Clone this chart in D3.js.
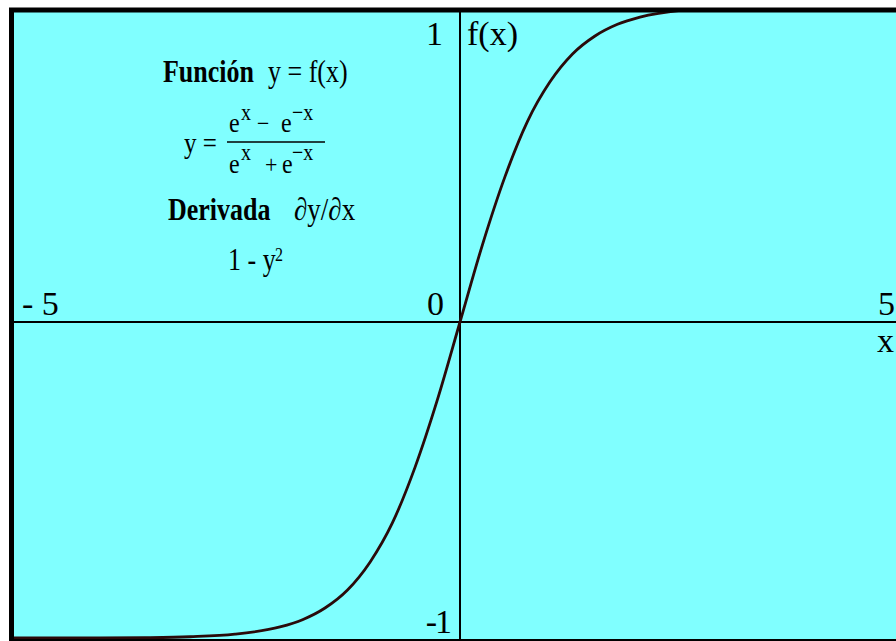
<!DOCTYPE html>
<html>
<head>
<meta charset="utf-8">
<script src="https://cdn.jsdelivr.net/npm/d3@7"></script>
<style>
  html, body { margin: 0; padding: 0; background: #ffffff; }
  svg { display: block; }
  text { font-family: "Liberation Serif", "Times New Roman", serif; fill: #000; }
</style>
</head>
<body>
<svg id="chart" width="896" height="641"></svg>
<script>
// Hyperbolic tangent curve, sampled points (x, f(x))
const xValues = [-5, -4, -3.5, -3, -2.5, -2, -1.75, -1.5, -1.25, -1, -0.75, -0.5, -0.25,
                 0, 0.25, 0.5, 0.75, 1, 1.25, 1.5, 1.75, 2, 2.5, 3, 3.5, 4, 5];
const yValues = [-1.0, -1.0, -0.999, -0.996, -0.988, -0.965, -0.942, -0.905, -0.848, -0.76, -0.635, -0.46, -0.245,
                 0, 0.245, 0.46, 0.635, 0.76, 0.848, 0.905, 0.942, 0.965, 0.988, 0.996, 0.999, 1.0, 1.0];

// Axis end labels
const xTickValues = [-5, 0, 5];
const xTickLabels = ["- 5", "0", "5"];
const yTickValues = [1, -1];
const yTickLabels = ["1", "-1"];

const svg = d3.select("#chart");
const W = 896, H = 641;

const x = d3.scaleLinear().domain([-5, 5]).range([10, 910]);
const y = d3.scaleLinear().domain([-1, 1]).range([638, 6]);

// plot background
svg.append("rect")
  .attr("x", 11.5).attr("y", 10)
  .attr("width", 900).attr("height", 631.5)
  .attr("fill", "#80ffff");

// clip region for the curve
svg.append("clipPath").attr("id", "plotClip")
  .append("rect").attr("x", 12).attr("y", 8).attr("width", 900).attr("height", 633);

// axes through the origin
svg.append("line")
  .attr("x1", 14).attr("x2", W)
  .attr("y1", y(0)).attr("y2", y(0))
  .attr("stroke", "#000").attr("stroke-width", 2);
svg.append("line")
  .attr("x1", x(0)).attr("x2", x(0))
  .attr("y1", 12).attr("y2", 640)
  .attr("stroke", "#000").attr("stroke-width", 2);

// curve
const pts = xValues.map((v, i) => [v, yValues[i]]);
const line = d3.line()
  .x(d => x(d[0]))
  .y(d => y(d[1]))
  .curve(d3.curveMonotoneX);
svg.append("path")
  .datum(pts)
  .attr("clip-path", "url(#plotClip)")
  .attr("d", line)
  .attr("fill", "none")
  .attr("stroke", "#2a0a0a")
  .attr("stroke-width", 2.8)
  .attr("stroke-linejoin", "round");

// frame
svg.append("rect")
  .attr("x", 11.5).attr("y", 10)
  .attr("width", 900).attr("height", 631.5)
  .attr("fill", "none")
  .attr("stroke", "#000")
  .attr("stroke-width", 5);

// axis labels
const axisFont = 34;
const xLabelPos = [{anchor: "start", dx: 22 - x(-5)}, {anchor: "end", dx: -16}, {anchor: "end", dx: -15}];
xTickValues.forEach((v, i) => {
  svg.append("text")
    .attr("x", x(v) + xLabelPos[i].dx)
    .attr("y", 315)
    .attr("text-anchor", xLabelPos[i].anchor)
    .attr("font-size", axisFont)
    .text(xTickLabels[i]);
});
const yLabelPos = [{base: 45, end: 443}, {base: 633, end: 450}];
yTickValues.forEach((v, i) => {
  svg.append("text")
    .attr("x", yLabelPos[i].end)
    .attr("y", yLabelPos[i].base)
    .attr("text-anchor", "end")
    .attr("font-size", axisFont)
    .attr("letter-spacing", i === 1 ? -2 : 0)
    .text(yTickLabels[i]);
});
svg.append("text")
  .attr("x", x(0) + 7).attr("y", 45)
  .attr("font-size", axisFont)
  .text("f(x)");
svg.append("text")
  .attr("x", 877).attr("y", 352)
  .attr("font-size", axisFont)
  .text("x");

// formula annotation (glyphs slightly stretched vertically)
function t(txt, px, py, size, weight) {
  return svg.append("text")
    .attr("transform", `translate(${px},${py}) scale(1,1.18)`)
    .attr("font-size", size)
    .attr("font-weight", weight || "normal")
    .text(txt);
}
t("Función", 163, 82, 26, "bold");
t("y = f(x)", 268, 82, 26);

t("y =", 184, 153, 25);
// numerator
t("e", 229, 132, 24);
t("x", 241, 120, 20);
t("\u2212", 257, 132, 22);
t("e", 281, 132, 24);
t("\u2212x", 292, 120, 20);
// fraction bar
svg.append("line")
  .attr("x1", 227).attr("x2", 325)
  .attr("y1", 142).attr("y2", 142)
  .attr("stroke", "#000").attr("stroke-width", 1.5);
// denominator
t("e", 229, 173, 24);
t("x", 241, 160, 20);
t("+", 265, 173, 22);
t("e", 282, 173, 24);
t("\u2212x", 292, 160, 20);

t("Derivada", 168, 220, 26, "bold");
t("\u2202y/\u2202x", 294, 220, 27);
t("1 - y", 228, 270, 26);
t("2", 275, 261, 16);
</script>
</body>
</html>
